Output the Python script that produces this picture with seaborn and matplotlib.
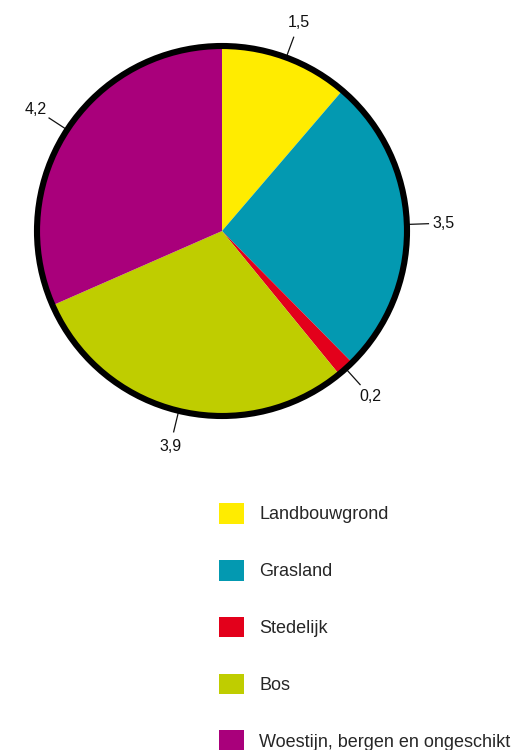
import numpy as np
import matplotlib
matplotlib.use("Agg")
import matplotlib.pyplot as plt
from matplotlib.patches import Patch, Circle
import seaborn as sns

# Land use categories and their values
categories = ["Landbouwgrond", "Grasland", "Stedelijk", "Bos",
              "Woestijn, bergen en ongeschikt"]
values = [1.5, 3.5, 0.2, 3.9, 4.2]
colors = ["#FFEC00", "#0399B1", "#E3001B", "#BFCD00", "#A9007B"]
value_labels = [f"{v:.1f}".replace(".", ",") for v in values]

sns.set_theme(style="white")
plt.rcParams["font.family"] = ["Liberation Sans", "DejaVu Sans"]

W, H = 512, 750
fig = plt.figure(figsize=(W / 100, H / 100), dpi=100)

# Pie axes: centre at (222, 231) px, radius 185 px
cx, cy, R = 222, 231, 185
half = 250
ax = fig.add_axes([(cx - half) / W, (H - cy - half) / H, 2 * half / W, 2 * half / H])

wedges, texts = ax.pie(
    values, colors=colors, startangle=90, counterclock=False,
    radius=1.0, labels=value_labels, labeldistance=1.2,
    wedgeprops=dict(linewidth=0, edgecolor="none"),
    textprops=dict(fontsize=11.5, color="#111111", ha="center", va="center"),
)
# pie() resets the limits, so fix the scale afterwards
ax.set_xlim(-half / R, half / R)
ax.set_ylim(-half / R, half / R)
ax.set_aspect("equal")
ax.axis("off")

# Leader lines from the rim towards each value label
for w in wedges:
    mid = np.deg2rad((w.theta1 + w.theta2) / 2)
    r0, r1 = 1.0, 1.12
    ax.plot([r0 * np.cos(mid), r1 * np.cos(mid)],
            [r0 * np.sin(mid), r1 * np.sin(mid)],
            color="#111111", lw=0.9, solid_capstyle="butt", zorder=1)

# Thick black outline around the pie
ax.add_patch(Circle((0, 0), 1.0, facecolor="none", edgecolor="black",
                    linewidth=4.4, zorder=5))

handles = [Patch(facecolor=c, edgecolor="none", label=l)
           for c, l in zip(colors, categories)]
fig.legend(handles=handles, loc="upper left",
           bbox_to_anchor=(219 / W, (H - 503) / H),
           frameon=False, fontsize=13, borderpad=0, borderaxespad=0,
           handlelength=1.39, handleheight=1.39, handletextpad=0.83,
           labelspacing=2.0)

fig.savefig("out.png", dpi=100)
